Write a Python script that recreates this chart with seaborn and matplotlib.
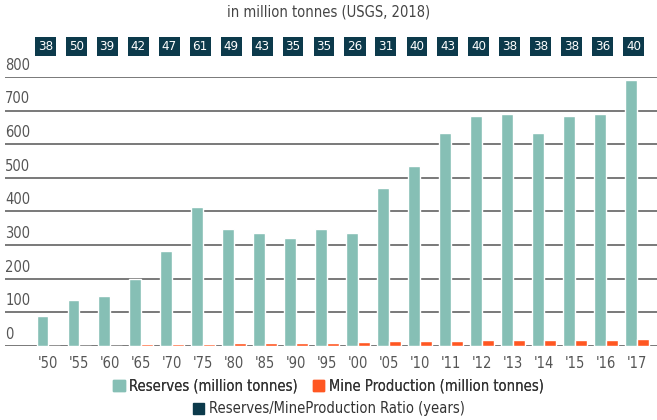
import pandas as pd
import numpy as np
import matplotlib.pyplot as plt
import seaborn as sns
from matplotlib.patches import Patch

# data
years = ["'50", "'55", "'60", "'65", "'70", "'75", "'80", "'85", "'90", "'95",
         "'00", "'05", "'10", "'11", "'12", "'13", "'14", "'15", "'16", "'17"]
reserves = [90, 137, 150, 198, 282, 414, 349, 337, 320, 349,
            337, 470, 534, 634, 683, 691, 634, 683, 691, 790]
production = [0, 0, 0, 5, 6, 7, 8, 8, 9, 10,
              13, 15, 16, 16, 17, 18, 18.5, 19, 19.5, 20]
ratio = [38, 50, 39, 42, 47, 61, 49, 43, 35, 35,
         26, 31, 40, 43, 40, 38, 38, 38, 36, 40]

RES_COLOR = "#86bfb5"
PROD_COLOR = "#ff5722"
RATIO_COLOR = "#0c3a4b"
GRID_COLOR = "#6e6e6e"
TEXT_COLOR = "#555555"

sns.set_theme(style="white")
plt.rcParams["font.family"] = ["DejaVu Sans"]
plt.rcParams["font.stretch"] = "condensed"

df = pd.DataFrame({
    "year": years * 2,
    "value": reserves + production,
    "series": ["Reserves"] * len(years) + ["Production"] * len(years),
})

fig = plt.figure(figsize=(6.57, 4.20), dpi=100)
ax = fig.add_axes([0.008, 0.176, 0.992, 0.641])

sns.barplot(data=df, x="year", y="value", hue="series",
            palette={"Reserves": RES_COLOR, "Production": PROD_COLOR},
            saturation=1, width=0.76, dodge=True, legend=False, ax=ax, zorder=3)

ax.set_ylim(0, 800)
ax.set_xlim(-1.39, 19.65)
ax.set_yticks(np.arange(0, 801, 100))
ax.yaxis.grid(True, color=GRID_COLOR, linewidth=1.3)
ax.set_axisbelow(True)
for s in ax.spines.values():
    s.set_visible(False)
ax.set_xlabel("")
ax.set_ylabel("")
ax.tick_params(axis="y", left=False, labelleft=False)
ax.tick_params(axis="x", bottom=False, pad=1, labelsize=10.5, labelcolor=TEXT_COLOR)

# y labels sit above their gridlines, inside the plot
for v in ax.get_yticks():
    ax.annotate(f"{int(v)}", xy=(0, v), xycoords=("axes fraction", "data"),
                xytext=(0, 3), textcoords="offset points",
                ha="left", va="bottom", fontsize=10.5, color=TEXT_COLOR)

# ratio boxes above the plot
for i, r in enumerate(ratio):
    ax.annotate(str(r), xy=(i - 0.1, 0.890), xycoords=("data", "figure fraction"),
                ha="center", va="center", fontsize=9.5, color="white",
                bbox=dict(boxstyle="square,pad=0.22", fc=RATIO_COLOR, ec="none"))

fig.text(0.5, 0.972, "in million tonnes (USGS, 2018)", ha="center", va="center",
         fontsize=10.5, color="#444444")

leg_kw = dict(loc="center", frameon=False, fontsize=10.5, handlelength=0.8,
              handleheight=0.8, handletextpad=0.3, labelcolor="#333333")
leg1 = fig.legend(handles=[Patch(color=RES_COLOR, label="Reserves (million tonnes)"),
                           Patch(color=PROD_COLOR, label="Mine Production (million tonnes)")],
                  bbox_to_anchor=(0.5, 0.081), ncol=2, columnspacing=1.0, **leg_kw)
fig.legend(handles=[Patch(color=RATIO_COLOR, label="Reserves/MineProduction Ratio (years)")],
           bbox_to_anchor=(0.5, 0.027), **leg_kw)
fig.add_artist(leg1)

fig.savefig("out.png", dpi=100)
